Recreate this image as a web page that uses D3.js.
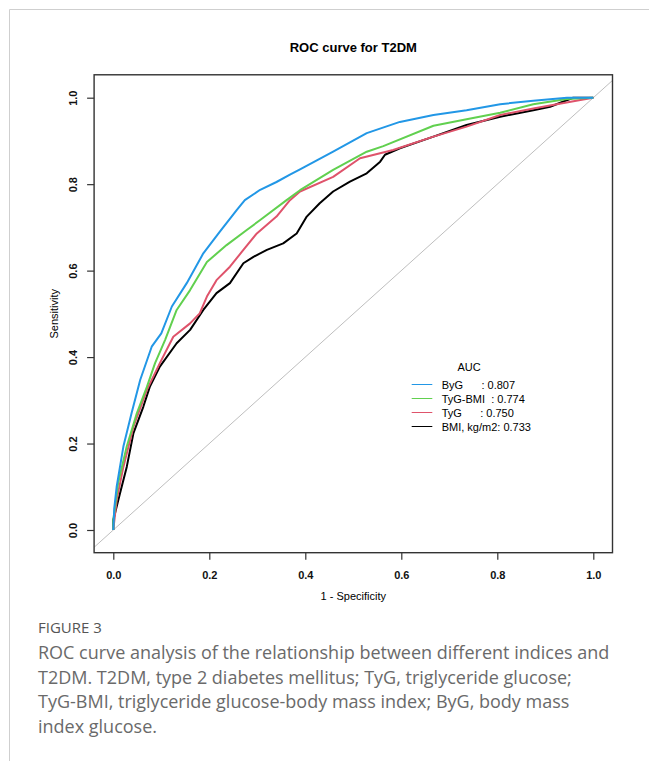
<!DOCTYPE html>
<html>
<head>
<meta charset="utf-8">
<script src="https://cdn.jsdelivr.net/npm/d3@7"></script>
<style>
  body { margin: 0; background: #fff; }
  svg text { font-family: "Liberation Sans", Arial, sans-serif; }
  .caption { font-family: "Open Sans", sans-serif; }
</style>
</head>
<body>
<div id="chart"></div>
<script>
// ROC points: [1 - specificity, sensitivity]
const bygPts = [[0,0],[0.002,0.05],[0.007,0.10],[0.021,0.193],[0.038,0.27],[0.056,0.347],[0.08,0.424],[0.10,0.455],[0.122,0.517],[0.153,0.571],[0.1875,0.64],[0.222,0.69],[0.257,0.74],[0.274,0.763],[0.306,0.787],[0.34,0.805],[0.368,0.822],[0.39,0.835],[0.458,0.875],[0.528,0.918],[0.597,0.944],[0.667,0.96],[0.736,0.971],[0.806,0.985],[0.875,0.993],[0.945,1.0],[1,1]];
const tygBmiPts = [[0,0],[0,0.023],[0.01,0.108],[0.028,0.193],[0.049,0.27],[0.07,0.331],[0.087,0.386],[0.108,0.44],[0.132,0.509],[0.16,0.555],[0.195,0.62],[0.236,0.659],[0.278,0.694],[0.306,0.717],[0.361,0.763],[0.389,0.786],[0.458,0.833],[0.528,0.875],[0.5625,0.888],[0.667,0.935],[0.736,0.95],[0.806,0.965],[0.875,0.985],[0.945,0.997],[1,1]];
const tygPts = [[0,0],[0.007,0.069],[0.021,0.146],[0.042,0.239],[0.07,0.324],[0.097,0.386],[0.125,0.447],[0.16,0.478],[0.18,0.501],[0.195,0.54],[0.215,0.578],[0.243,0.609],[0.271,0.648],[0.299,0.686],[0.34,0.725],[0.368,0.763],[0.389,0.783],[0.458,0.817],[0.514,0.86],[0.583,0.879],[0.667,0.91],[0.736,0.933],[0.806,0.96],[0.875,0.975],[0.979,0.996],[1,1]];
const bmiPts = [[0,0],[0,0.023],[0.014,0.085],[0.028,0.146],[0.042,0.224],[0.0625,0.285],[0.076,0.331],[0.097,0.378],[0.132,0.432],[0.16,0.463],[0.1875,0.509],[0.215,0.548],[0.243,0.571],[0.271,0.617],[0.292,0.632],[0.32,0.648],[0.354,0.663],[0.382,0.686],[0.403,0.725],[0.43,0.756],[0.458,0.783],[0.493,0.806],[0.528,0.825],[0.556,0.852],[0.566,0.868],[0.597,0.883],[0.667,0.91],[0.736,0.937],[0.806,0.956],[0.875,0.971],[0.91,0.979],[0.958,1.0],[1,1]];

const legendLabels = ["ByG      : 0.807", "TyG-BMI  : 0.774", "TyG      : 0.750", "BMI, kg/m2: 0.733"];
const legendColors = ["#2297E6", "#61D04F", "#DF536B", "#000000"];
const tickValues = [0, 0.2, 0.4, 0.6, 0.8, 1.0];
const captionLines = [
  "ROC curve analysis of the relationship between different indices and",
  "T2DM. T2DM, type 2 diabetes mellitus; TyG, triglyceride glucose;",
  "TyG-BMI, triglyceride glucose-body mass index; ByG, body mass",
  "index glucose."
];

const W = 649, H = 761;
const svg = d3.select("#chart").append("svg")
  .attr("width", W).attr("height", H);

// outer frame (light grey, left and top only)
svg.append("path")
  .attr("d", "M9.5,761 L9.5,9.5 L649,9.5")
  .attr("fill", "none").attr("stroke", "#cfcfcf").attr("stroke-width", 1);

const x = d3.scaleLinear().domain([0, 1]).range([113.3, 593.3]);
const y = d3.scaleLinear().domain([0, 1]).range([530, 97.7]);

const x0 = x(-0.04), x1 = x(1.04), yb = y(-0.0525), yt = y(1.053);

svg.append("defs").append("clipPath").attr("id", "clip")
  .append("rect").attr("x", x0).attr("y", yt).attr("width", x1 - x0).attr("height", yb - yt);

// diagonal reference
svg.append("line")
  .attr("clip-path", "url(#clip)")
  .attr("x1", x(-0.04)).attr("y1", y(-0.04))
  .attr("x2", x(1.04)).attr("y2", y(1.04))
  .attr("stroke", "#bebebe").attr("stroke-width", 1);

const line = d3.line().x(d => x(d[0])).y(d => y(d[1]));

// curves, drawn back to front
const series = [
  {pts: bmiPts, color: "#000000"},
  {pts: tygPts, color: "#DF536B"},
  {pts: tygBmiPts, color: "#61D04F"},
  {pts: bygPts, color: "#2297E6"}
];
svg.append("g").attr("clip-path", "url(#clip)")
  .selectAll("path").data(series).join("path")
  .attr("d", d => line(d.pts))
  .attr("fill", "none")
  .attr("stroke", d => d.color)
  .attr("stroke-width", 2)
  .attr("stroke-linejoin", "round");

// box
svg.append("rect")
  .attr("x", x0).attr("y", yt).attr("width", x1 - x0).attr("height", yb - yt)
  .attr("fill", "none").attr("stroke", "#333").attr("stroke-width", 1.4);

// x axis
const xAxis = svg.append("g")
  .attr("transform", "translate(0," + yb + ")")
  .call(d3.axisBottom(x).tickValues(tickValues).tickSize(7).tickFormat(d3.format(".1f")));
xAxis.select(".domain").remove();
xAxis.selectAll(".tick line").attr("stroke", "#333").attr("stroke-width", 1.2);
xAxis.selectAll(".tick text")
  .attr("y", 26).attr("dy", 0)
  .style("font-size", "11px").style("font-weight", "bold").attr("fill", "#111");

// y axis
const yAxis = svg.append("g")
  .attr("transform", "translate(" + x0 + ",0)")
  .call(d3.axisLeft(y).tickValues(tickValues).tickSize(7).tickFormat(d3.format(".1f")));
yAxis.select(".domain").remove();
yAxis.selectAll(".tick line").attr("stroke", "#333").attr("stroke-width", 1.2);
yAxis.selectAll(".tick text")
  .attr("transform", "rotate(-90)")
  .attr("x", 0).attr("y", -17.5).attr("dy", 0)
  .attr("text-anchor", "middle")
  .style("font-size", "11px").style("font-weight", "bold").attr("fill", "#111");

// titles
const cx = (x0 + x1) / 2;
svg.append("text")
  .attr("x", cx).attr("y", 52)
  .attr("text-anchor", "middle")
  .style("font-size", "13px").style("font-weight", "bold")
  .text("ROC curve for T2DM");

svg.append("text")
  .attr("x", cx).attr("y", 600)
  .attr("text-anchor", "middle")
  .style("font-size", "11px")
  .text("1 - Specificity");

svg.append("text")
  .attr("transform", "translate(58," + ((yt + yb) / 2) + ") rotate(-90)")
  .attr("text-anchor", "middle")
  .style("font-size", "11px")
  .text("Sensitivity");

// legend
const leg = svg.append("g");
leg.append("text")
  .attr("x", 469).attr("y", 371)
  .attr("text-anchor", "middle")
  .style("font-size", "11px")
  .text("AUC");
const rows = leg.selectAll("g.row").data(legendLabels).join("g")
  .attr("class", "row")
  .attr("transform", (d, i) => "translate(0," + (384.5 + i * 14) + ")");
rows.append("line")
  .attr("x1", 411.7).attr("x2", 432.3)
  .attr("stroke", (d, i) => legendColors[i])
  .attr("stroke-width", 1);
rows.append("text")
  .attr("x", 441.7).attr("y", 4)
  .attr("xml:space", "preserve")
  .style("white-space", "pre")
  .style("font-size", "11px")
  .text(d => d);

// caption
svg.append("text")
  .attr("class", "caption")
  .attr("x", 38).attr("y", 633)
  .style("font-size", "15px").attr("fill", "#555")
  .text("FIGURE 3");
svg.append("g").selectAll("text").data(captionLines).join("text")
  .attr("class", "caption")
  .attr("x", 38).attr("y", (d, i) => 659 + i * 24.5)
  .style("font-size", "18px").attr("fill", "#6a6a6a")
  .text(d => d);
</script>
</body>
</html>
